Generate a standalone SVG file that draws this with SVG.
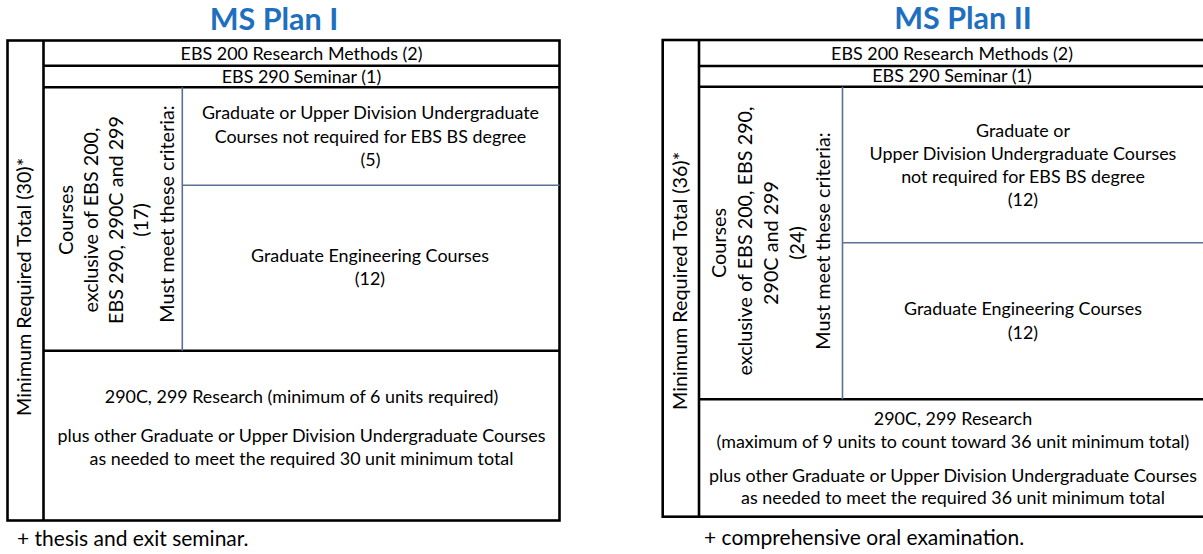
<svg xmlns="http://www.w3.org/2000/svg" width="1203" height="554" viewBox="0 0 1203 554">
<style>
.t{font-family:Lato,"Liberation Sans",sans-serif;font-size:17.9px;fill:#000;text-anchor:middle}
.v{font-size:19.8px}
.l{text-anchor:start;font-size:21px}
.title{font-family:Lato,"Open Sans","Liberation Sans",sans-serif;font-size:30.5px;font-weight:bold;fill:#1F6FBF;text-anchor:middle}
.k{fill:none;stroke:#000;stroke-width:2.6}
.b{fill:none;stroke:#5B7096;stroke-width:1.6}
</style>
<rect width="1203" height="554" fill="#fff"/>

<g id="plan1">
<text class="title" x="274" y="30">MS Plan I</text>
<g id="p1-lines">
<rect class="k" x="7.5" y="40.5" width="552" height="480"/>
<line class="k" x1="43.5" y1="40.5" x2="43.5" y2="520.5"/>
<line class="k" x1="43.5" y1="65.7" x2="559.5" y2="65.7"/>
<line class="k" x1="43.5" y1="87.3" x2="559.5" y2="87.3"/>
<line class="k" x1="43.5" y1="350.7" x2="559.5" y2="350.7"/>
<line class="b" x1="182.3" y1="87.3" x2="182.3" y2="350.7"/>
<line class="b" x1="182.3" y1="185.3" x2="559.5" y2="185.3"/>
</g>
<g id="p1-total"><text class="t v" transform="translate(31,287) rotate(-90)">Minimum Required Total (30)*</text></g>
<g id="p1-ebs200"><text class="t" x="301.5" y="60">EBS 200 Research Methods (2)</text></g>
<g id="p1-ebs290"><text class="t" x="301.5" y="82.5">EBS 290 Seminar (1)</text></g>
<g id="p1-courses">
<text class="t v" transform="translate(73,220) rotate(-90)">Courses</text>
<text class="t v" transform="translate(98,220) rotate(-90)">exclusive of EBS 200,</text>
<text class="t v" transform="translate(123,220) rotate(-90)">EBS 290, 290C and 299</text>
<text class="t v" transform="translate(148,220) rotate(-90)">(17)</text>
<text class="t v" transform="translate(174,214) rotate(-90)">Must meet these criteria:</text>
</g>
<g id="p1-upper">
<text class="t" x="370.5" y="119">Graduate or Upper Division Undergraduate</text>
<text class="t" x="370.5" y="142.5">Courses not required for EBS BS degree</text>
<text class="t" x="370.5" y="166">(5)</text>
</g>
<g id="p1-grad">
<text class="t" x="370" y="261.5">Graduate Engineering Courses</text>
<text class="t" x="370" y="285">(12)</text>
</g>
<g id="p1-research">
<text class="t" x="301.5" y="403">290C, 299 Research (minimum of 6 units required)</text>
<text class="t" x="301.5" y="441.5">plus other Graduate or Upper Division Undergraduate Courses</text>
<text class="t" x="301.5" y="465">as needed to meet the required 30 unit minimum total</text>
</g>
<text class="t l" x="17" y="546">+ thesis and exit seminar.</text>
</g>

<g id="plan2">
<text class="title" x="963" y="29">MS Plan II</text>
<g id="p2-lines">
<rect class="k" x="662.7" y="40" width="550" height="476.7"/>
<line class="k" x1="699" y1="40" x2="699" y2="516.7"/>
<line class="k" x1="699" y1="66" x2="1212" y2="66"/>
<line class="k" x1="699" y1="86.7" x2="1212" y2="86.7"/>
<line class="k" x1="699" y1="399.3" x2="1212" y2="399.3"/>
<line class="b" x1="842.5" y1="86.7" x2="842.5" y2="399.3"/>
<line class="b" x1="842.5" y1="242.7" x2="1212" y2="242.7"/>
</g>
<g id="p2-total"><text class="t v" transform="translate(687,281) rotate(-90)">Minimum Required Total (36)*</text></g>
<g id="p2-ebs200"><text class="t" x="952" y="60">EBS 200 Research Methods (2)</text></g>
<g id="p2-ebs290"><text class="t" x="952" y="82">EBS 290 Seminar (1)</text></g>
<g id="p2-courses">
<text class="t v" transform="translate(726,243) rotate(-90)">Courses</text>
<text class="t v" transform="translate(752,241) rotate(-90)">exclusive of EBS 200, EBS 290,</text>
<text class="t v" transform="translate(778,243) rotate(-90)">290C and 299</text>
<text class="t v" transform="translate(804,243) rotate(-90)">(24)</text>
<text class="t v" transform="translate(830,241) rotate(-90)">Must meet these criteria:</text>
</g>
<g id="p2-upper">
<text class="t" x="1023" y="137">Graduate or</text>
<text class="t" x="1023" y="160">Upper Division Undergraduate Courses</text>
<text class="t" x="1023" y="183">not required for EBS BS degree</text>
<text class="t" x="1023" y="206">(12)</text>
</g>
<g id="p2-grad">
<text class="t" x="1023" y="315">Graduate Engineering Courses</text>
<text class="t" x="1023" y="339">(12)</text>
</g>
<g id="p2-research">
<text class="t" x="953" y="425">290C, 299 Research</text>
<text class="t" x="953" y="448">(maximum of 9 units to count toward 36 unit minimum total)</text>
<text class="t" x="953" y="481.5">plus other Graduate or Upper Division Undergraduate Courses</text>
<text class="t" x="953" y="504">as needed to meet the required 36 unit minimum total</text>
</g>
<text class="t l" x="704" y="545">+ comprehensive oral examination.</text>
</g>
</svg>
